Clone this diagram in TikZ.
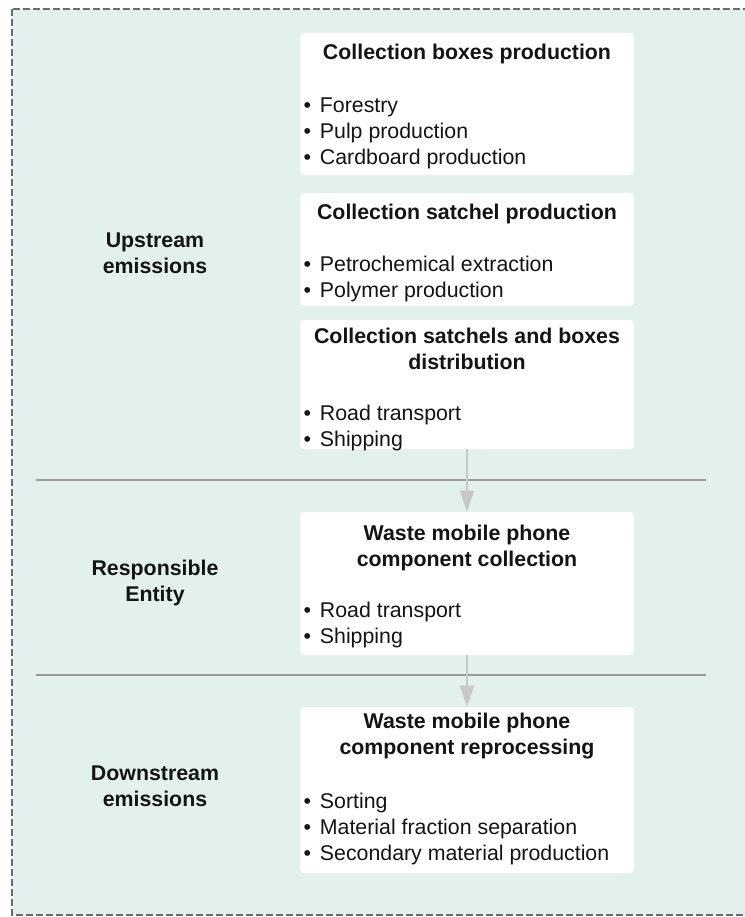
\documentclass[tikz,border=0pt]{standalone}
\usepackage{fontspec}
\setmainfont{Liberation Sans}
\usetikzlibrary{arrows.meta}
\definecolor{bgmint}{HTML}{E3F1EE}
\definecolor{borderg}{HTML}{6B6B6B}
\definecolor{sepg}{HTML}{9A9A9A}
\definecolor{arrowg}{HTML}{C8C8C8}
\definecolor{txt}{HTML}{141414}
\newcommand\bul{\textbullet\hspace{0.42em}}
\begin{document}
\begin{tikzpicture}[x=0.75pt,y=-0.75pt,
  every node/.style={inner sep=0pt, outer sep=0pt, text=txt, font=\fontsize{16pt}{19.5pt}\selectfont},
  stage/.style={draw=none, fill=white, rounded corners=3pt, minimum width=250.5pt, anchor=north west},
  title/.style={anchor=north, align=center, font=\fontsize{16pt}{19.5pt}\selectfont\bfseries},
  items/.style={anchor=north west, align=left},
  region/.style={anchor=north, align=center, font=\fontsize{16pt}{19.5pt}\selectfont\bfseries},
  sep/.style={draw=sepg, line width=1.5pt},
  flow/.style={draw=arrowg, line width=1.5pt, -{Triangle[length=16pt,width=10.5pt]}}
]
\clip (0,0) rectangle (745,917);
\useasboundingbox (0,0) rectangle (745,917);
\draw[fill=bgmint, draw=borderg, line width=1.5pt, dash pattern=on 5pt off 2.5pt] (12,9) rectangle (770,915);

% separators
\coordinate (s1a) at (36,480);
\coordinate (s1b) at (706,480);
\coordinate (s2a) at (36,675);
\coordinate (s2b) at (706,675);
\draw[sep] (s1a) -- (s1b);
\draw[sep] (s2a) -- (s2b);

% region labels
\node[region] (lup) at (155,228.8) {\strut Upstream\\emissions};
\node[region] (lre) at (155,556.8) {\strut Responsible\\Entity};
\node[region] (ldo) at (155,761.8) {\strut Downstream\\emissions};

% boxes
\node[stage, minimum height=106.5pt] (b1) at (300,33) {};
\node[stage, minimum height=84.75pt] (b2) at (300,193) {};
\node[stage, minimum height=96.75pt] (b3) at (300,320) {};
\node[stage, minimum height=107.25pt] (b4) at (300,512) {};
\node[stage, minimum height=124.5pt] (b5) at (300,707) {};

% box 1
\node[title] (t1) at (467,41.8) {\strut Collection boxes production};
\node[items] (i1) at (303.5,93.8) {\strut\bul Forestry\\\bul Pulp production\\\bul Cardboard production};
% box 2
\node[title] (t2) at (467,200.8) {\strut Collection satchel production};
\node[items] (i2) at (303.5,252.8) {\strut\bul Petrochemical extraction\\\bul Polymer production};
% box 3
\node[title] (t3) at (467,324.8) {\strut Collection satchels and boxes\\distribution};
\node[items] (i3) at (303.5,401.8) {\strut\bul Road transport\\\bul Shipping};
% box 4
\node[title] (t4) at (467,521.8) {\strut Waste mobile phone\\component collection};
\node[items] (i4) at (303.5,598.8) {\strut\bul Road transport\\\bul Shipping};
% box 5
\node[title] (t5) at (467,709.8) {\strut Waste mobile phone\\component reprocessing};
\node[items] (i5) at (303.5,789.8) {\strut\bul Sorting\\\bul Material fraction separation\\\bul Secondary material production};

% flows
\draw[flow] (b3.south) -- (b4.north);
\draw[flow] (b4.south) -- (b5.north);
\end{tikzpicture}
\end{document}
